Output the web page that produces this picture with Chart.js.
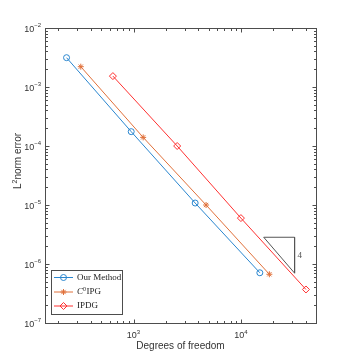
<!DOCTYPE html>
<html><head><meta charset="utf-8">
<script src="https://cdn.jsdelivr.net/npm/chart.js@4/dist/chart.umd.min.js"></script>
<style>html,body{margin:0;padding:0;background:#fff}#wrap{width:349px;height:363px}</style>
</head><body><div id="wrap"><canvas id="c" width="349" height="363"></canvas></div>
<script>
// ---- data ----
const dofOur  = [238, 952, 3750, 15000];
const errOur  = [3.14e-3, 1.75e-4, 1.08e-5, 7.1e-7];
const dofC0   = [323, 1230, 4740, 18400];
const errC0   = [2.21e-3, 1.40e-4, 1.0e-5, 6.7e-7];
const dofIPDG = [643, 2550, 10000, 40300];
const errIPDG = [1.53e-3, 1.0e-4, 6.0e-6, 3.7e-7];
const triX = [16300, 31600, 31600, 16300];
const triY = [2.84e-6, 2.84e-6, 7.0e-7, 2.84e-6];
const triLabel = '4';
const xTickExps = [3, 4];
const yTickExps = [-7, -6, -5, -4, -3, -2];
const seriesNames = ['Our Method', 'C0IPG', 'IPDG'];
const xTitle = 'Degrees of freedom';

const pts = (xs, ys) => xs.map((x, i) => ({x, y: ys[i]}));
const AX = '#4d4d4d';
const sans = '"Liberation Sans", Arial, sans-serif';
const serif = '"Liberation Serif", "Times New Roman", serif';

function supText(ctx, base, exp, x, y, align, size) {
  ctx.font = size + 'px ' + sans;
  const wb = ctx.measureText(base).width;
  ctx.font = Math.round(size * 0.7) + 'px ' + sans;
  const we = ctx.measureText(exp).width;
  const w = wb + we;
  let x0 = align === 'right' ? x - w : (align === 'center' ? x - w / 2 : x);
  ctx.textAlign = 'left';
  ctx.textBaseline = 'alphabetic';
  ctx.font = size + 'px ' + sans;
  ctx.fillText(base, x0, y);
  ctx.font = Math.round(size * 0.7) + 'px ' + sans;
  ctx.fillText(exp, x0 + wb, y - size * 0.45);
}

const decor = {
  id: 'decor',
  afterDraw(chart) {
    const ctx = chart.ctx, a = chart.chartArea;
    const xs = chart.scales.x, ys = chart.scales.y;
    ctx.save();
    ctx.strokeStyle = AX; ctx.lineWidth = 1;
    const L = Math.round(a.left) + 0.5, R = Math.round(a.right) + 0.5;
    const T = Math.round(a.top) + 0.5, B = Math.round(a.bottom) + 0.5;
    ctx.strokeRect(L, T, R - L, B - T);
    // ticks
    ctx.beginPath();
    for (let e = 2; e <= 5; e++) for (let m = 1; m <= 9; m++) {
      const v = m * Math.pow(10, e);
      if (v < xs.min || v > xs.max) continue;
      const px = Math.round(xs.getPixelForValue(v)) + 0.5;
      const len = m === 1 ? 4 : 2.5;
      ctx.moveTo(px, B); ctx.lineTo(px, B - len);
      ctx.moveTo(px, T); ctx.lineTo(px, T + len);
    }
    for (let e = -7; e <= -2; e++) for (let m = 1; m <= 9; m++) {
      const v = m * Math.pow(10, e);
      if (v < ys.min * 0.999 || v > ys.max * 1.001) continue;
      const py = Math.round(ys.getPixelForValue(v)) + 0.5;
      const len = m === 1 ? 4 : 2.5;
      ctx.moveTo(L, py); ctx.lineTo(L + len, py);
      ctx.moveTo(R, py); ctx.lineTo(R - len, py);
    }
    ctx.stroke();
    // tick labels
    ctx.fillStyle = '#333';
    yTickExps.forEach(e => {
      const py = ys.getPixelForValue(Math.pow(10, e));
      supText(ctx, '10', '\u2212' + Math.abs(e), a.left - 4, py + 3.5, 'right', 9);
    });
    xTickExps.forEach(e => {
      const px = xs.getPixelForValue(Math.pow(10, e));
      supText(ctx, '10', String(e), px, a.bottom + 15, 'center', 9);
    });
    // axis titles
    ctx.fillStyle = '#333';
    ctx.font = '10px ' + sans; ctx.textAlign = 'center'; ctx.textBaseline = 'alphabetic';
    ctx.fillText(xTitle, (a.left + a.right) / 2, 349);
    ctx.save();
    ctx.translate(21, 161);
    ctx.rotate(-Math.PI / 2);
    ctx.font = '10px ' + sans;
    const p1 = 'L', p3 = 'norm error';
    const w1 = ctx.measureText(p1).width, w3 = ctx.measureText(p3).width;
    ctx.font = '7px ' + sans; const w2 = ctx.measureText('2').width;
    let x0 = -(w1 + w2 + w3) / 2;
    ctx.textAlign = 'left';
    ctx.font = '10px ' + sans; ctx.fillText(p1, x0, 0);
    ctx.font = '7px ' + sans; ctx.fillText('2', x0 + w1, -4.5);
    ctx.font = '10px ' + sans; ctx.fillText(p3, x0 + w1 + w2, 0);
    ctx.restore();
    // slope label
    ctx.fillStyle = '#555';
    ctx.font = '9px ' + serif; ctx.textAlign = 'left'; ctx.textBaseline = 'middle';
    const lx = xs.getPixelForValue(triX[1]) + 3;
    const ly = ys.getPixelForValue(Math.sqrt(triY[1] * triY[2]));
    ctx.fillText(triLabel, lx, ly);
    // legend
    const lgL = 51.5, lgT = 270.5, lgW = 71, lgH = 44;
    ctx.fillStyle = '#fff'; ctx.fillRect(lgL, lgT, lgW, lgH);
    ctx.strokeStyle = AX; ctx.lineWidth = 1; ctx.strokeRect(lgL, lgT, lgW, lgH);
    const rows = [277.5, 292, 306];
    for (let i = 0; i < 3; i++) {
      const ds = chart.data.datasets[i];
      const y = rows[i];
      ctx.strokeStyle = ds.borderColor; ctx.lineWidth = 1;
      ctx.beginPath(); ctx.moveTo(54, y); ctx.lineTo(73, y); ctx.stroke();
      ctx.fillStyle = 'rgba(0,0,0,0)';
      Chart.helpers.drawPoint(ctx, {pointStyle: ds.pointStyle, radius: ds.pointRadius, borderWidth: 1, rotation: 0}, 63.5, y);
      ctx.fillStyle = '#222';
      ctx.textBaseline = 'middle'; ctx.textAlign = 'left';
      if (i === 1) {
        ctx.font = 'italic 9px ' + serif; ctx.fillText('C', 77, y);
        let w = ctx.measureText('C').width;
        ctx.font = '6px ' + serif; ctx.fillText('0', 77 + w, y - 3);
        w += ctx.measureText('0').width;
        ctx.font = '9px ' + serif; ctx.fillText('IPG', 77 + w + 0.5, y);
      } else {
        ctx.font = '9px ' + serif; ctx.fillText(seriesNames[i], 77, y);
      }
    }
    ctx.restore();
  }
};

const base = {showLine: true, borderWidth: 1, pointBorderWidth: 1, pointBackgroundColor: 'transparent', fill: false, tension: 0};
new Chart(document.getElementById('c'), {
  type: 'scatter',
  data: {datasets: [
    Object.assign({}, base, {label: seriesNames[0], data: pts(dofOur, errOur), borderColor: '#2a86cf', pointBorderColor: '#2a86cf', pointStyle: 'circle', pointRadius: 3}),
    Object.assign({}, base, {label: seriesNames[1], data: pts(dofC0, errC0), borderColor: '#e0703a', pointBorderColor: '#e0703a', pointStyle: 'star', pointRadius: 3}),
    Object.assign({}, base, {label: seriesNames[2], data: pts(dofIPDG, errIPDG), borderColor: '#ff3030', pointBorderColor: '#ff3030', pointStyle: 'rectRot', pointRadius: 3.5}),
    {label: 'slope', data: pts(triX, triY), showLine: true, borderColor: '#555', borderWidth: 1, pointRadius: 0, fill: false}
  ]},
  options: {
    responsive: false, animation: false, devicePixelRatio: 1,
    layout: {padding: {top: 28, right: 33, left: 0, bottom: 0}},
    plugins: {legend: {display: false}, tooltip: {enabled: false}},
    scales: {
      x: {type: 'logarithmic', min: 150, max: 50000, grid: {display: false}, border: {display: false},
          ticks: {display: false}, afterFit: s => { s.height = 40; }},
      y: {type: 'logarithmic', min: 1e-7, max: 1e-2, grid: {display: false}, border: {display: false},
          ticks: {display: false}, afterFit: s => { s.width = 45; }}
    }
  },
  plugins: [decor]
});
</script></body></html>
